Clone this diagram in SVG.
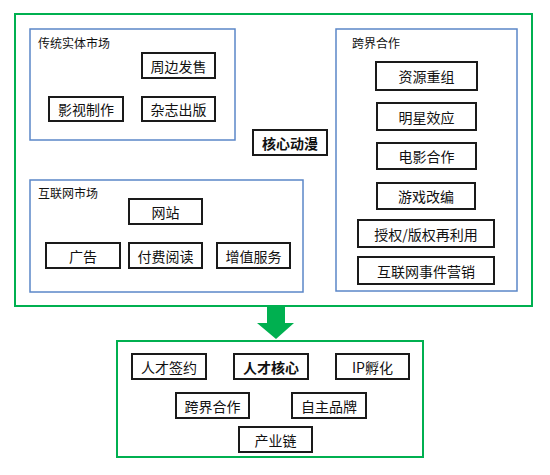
<svg xmlns="http://www.w3.org/2000/svg" width="550" height="475" viewBox="0 0 550 475">
<style>
.green{fill:none;stroke:#00B050;stroke-width:2}
.blue{fill:none;stroke:#5B87C8;stroke-width:1.5}
.box{fill:#fff;stroke:#1a1a1a;stroke-width:2}
text{font-family:"Noto Sans CJK SC","Liberation Sans",sans-serif;fill:#111}
.t{font-size:14px;text-anchor:middle;dominant-baseline:central}
.b{font-weight:bold}
.lbl{font-size:12px}
</style>
<rect width="550" height="475" fill="#fff"/>
<g id="outer-top"><rect class="green" x="15" y="14" width="517" height="292"/></g>
<g id="traditional-market">
<rect class="blue" x="30" y="29" width="205" height="111"/>
<text class="lbl" x="38" y="48">传统实体市场</text>
</g>
<g id="n-zhoubian"><rect class="box" x="142" y="53" width="73" height="25"/><text class="t" x="178.5" y="65.5">周边发售</text></g>
<g id="n-yingshi"><rect class="box" x="49" y="97" width="74" height="24"/><text class="t" x="86" y="109">影视制作</text></g>
<g id="n-zazhi"><rect class="box" x="142" y="97" width="73" height="24"/><text class="t" x="178.5" y="109">杂志出版</text></g>
<g id="internet-market">
<rect class="blue" x="30" y="180" width="273" height="112"/>
<text class="lbl" x="38" y="198">互联网市场</text>
</g>
<g id="n-wangzhan"><rect class="box" x="129" y="199" width="73" height="25"/><text class="t" x="165.5" y="211.5">网站</text></g>
<g id="n-guanggao"><rect class="box" x="46" y="243" width="74" height="25"/><text class="t" x="83" y="255.5">广告</text></g>
<g id="n-fufei"><rect class="box" x="129" y="243" width="73" height="25"/><text class="t" x="165.5" y="255.5">付费阅读</text></g>
<g id="n-zengzhi"><rect class="box" x="217" y="243" width="73" height="25"/><text class="t" x="253.5" y="255.5">增值服务</text></g>
<g id="n-core"><rect class="box" x="253" y="130" width="74" height="25"/><text class="t b" x="290" y="142.5">核心动漫</text></g>
<g id="cross-border">
<rect class="blue" x="336" y="29" width="181" height="262"/>
<text class="lbl" x="352" y="48">跨界合作</text>
</g>
<g id="n-ziyuan"><rect class="box" x="376" y="62" width="101" height="28"/><text class="t" x="426.5" y="76">资源重组</text></g>
<g id="n-mingxing"><rect class="box" x="377" y="103" width="99" height="27"/><text class="t" x="426.5" y="116.5">明星效应</text></g>
<g id="n-dianying"><rect class="box" x="377" y="143" width="99" height="26"/><text class="t" x="426.5" y="156">电影合作</text></g>
<g id="n-youxi"><rect class="box" x="377" y="183" width="98" height="26"/><text class="t" x="426" y="196">游戏改编</text></g>
<g id="n-shouquan"><rect class="box" x="358" y="220" width="136" height="27"/><text class="t" x="426" y="233.5">授权/版权再利用</text></g>
<g id="n-hulianwang"><rect class="box" x="358" y="257" width="136" height="27"/><text class="t" x="426" y="270.5">互联网事件营销</text></g>
<g id="connectors">
<polygon points="267,306 285,306 285,323 294,323 276,339 257,323 267,323" fill="#00B050"/>
</g>
<g id="outer-bottom"><rect class="green" x="117" y="341" width="306" height="116"/></g>
<g id="n-qianyue"><rect class="box" x="132" y="354" width="74" height="25"/><text class="t" x="169" y="366.5">人才签约</text></g>
<g id="n-rencai"><rect class="box" x="234" y="354" width="74" height="25"/><text class="t b" x="271" y="366.5">人才核心</text></g>
<g id="n-ip"><rect class="box" x="336" y="354" width="73" height="25"/><text class="t" x="372.5" y="366.5">IP孵化</text></g>
<g id="n-kuajie"><rect class="box" x="176" y="393" width="73" height="25"/><text class="t" x="212.5" y="405.5">跨界合作</text></g>
<g id="n-zizhu"><rect class="box" x="292" y="393" width="74" height="25"/><text class="t" x="329" y="405.5">自主品牌</text></g>
<g id="n-chanye"><rect class="box" x="239" y="427" width="73" height="25"/><text class="t" x="275.5" y="439.5">产业链</text></g>
</svg>
